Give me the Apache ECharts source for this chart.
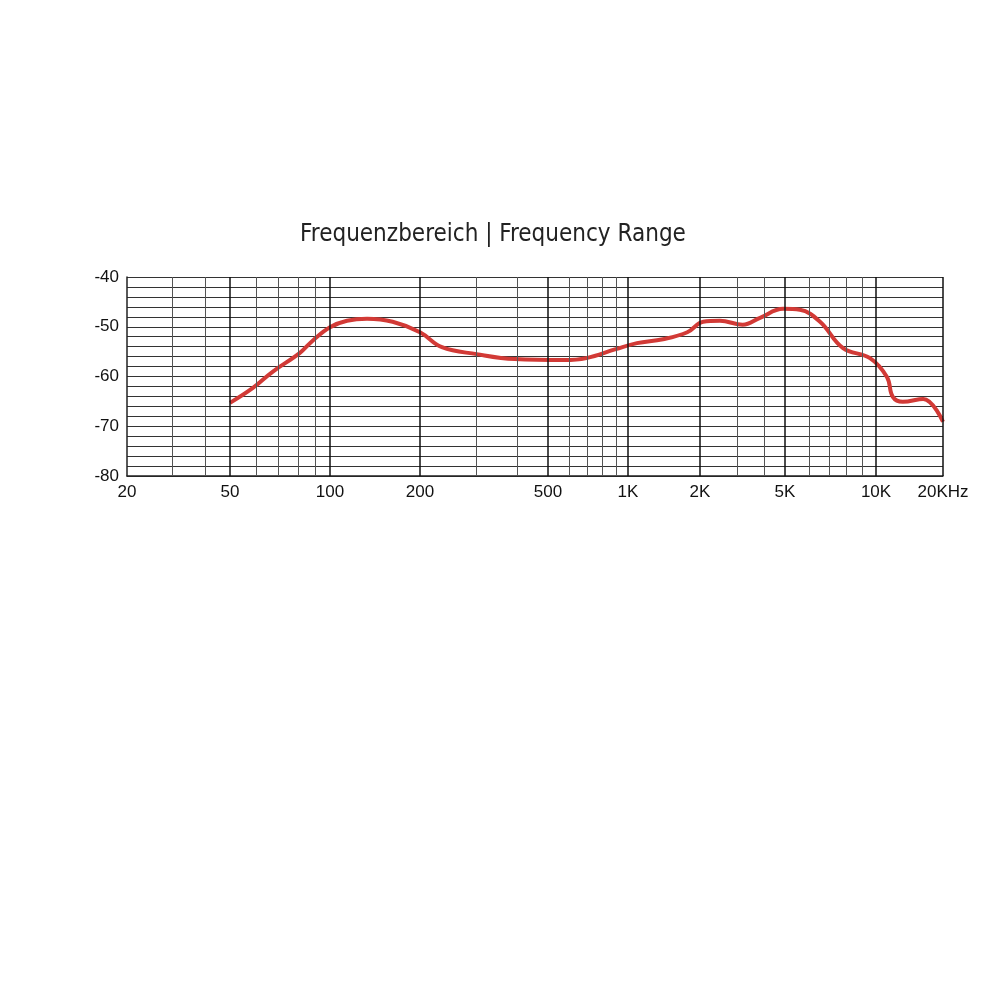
<!DOCTYPE html>
<html><head><meta charset="utf-8">
<script src="https://cdn.jsdelivr.net/npm/echarts@6/dist/echarts.min.js"></script>
<style>body{margin:0}#c{width:1000px;height:1000px}</style></head>
<body><div id="c"></div>
<script>
// Axis scale calibration of the printed (non-uniform) frequency grid: frequency -> axis unit
const calFreq = [20, 50, 100, 200, 500, 1000, 2000, 5000, 10000, 20000];
const calUnit = [0, 103, 203, 293, 421, 501, 573, 658, 749, 816];
const xTickFreqs = [20, 50, 100, 200, 500, 1000, 2000, 5000, 10000, 20000];
const xTickLabels = ['20', '50', '100', '200', '500', '1K', '2K', '5K', '10K', '20KHz'];
const vGridFreqs = [30, 40, 60, 70, 80, 90, 300, 400, 600, 700, 800, 900, 3000, 4000, 6000, 7000, 8000, 9000];
const vMajorFreqs = [50, 100, 200, 500, 1000, 2000, 5000, 10000];
const freqHz = [50, 58.6, 67, 81, 89, 100, 114, 133, 162, 200, 234, 300, 394, 576, 697, 900, 1090, 1400, 1770, 2070, 2480, 3170, 3820, 4900, 5600, 6530, 7780, 9550, 11200, 11900, 13200, 16300, 20000];
const levelDb = [-65.3, -62.3, -59.1, -55.3, -52.7, -50.1, -48.8, -48.4, -49.0, -51.1, -54.1, -55.5, -56.5, -56.7, -56.3, -54.5, -53.3, -52.5, -51.1, -49.0, -48.8, -49.6, -48.2, -46.4, -46.6, -49.0, -54.3, -56.3, -60.1, -64.1, -65.1, -64.5, -69.1];

function toUnit(f){
  for(let i=0;i<calFreq.length-1;i++){
    if(f<=calFreq[i+1]){
      const t=Math.log(f/calFreq[i])/Math.log(calFreq[i+1]/calFreq[i]);
      return calUnit[i]+t*(calUnit[i+1]-calUnit[i]);
    }
  }
  return calUnit[calUnit.length-1];
}
const tickUnits = xTickFreqs.map(toUnit);
function labelFor(v){
  for(let i=0;i<tickUnits.length;i++) if(Math.abs(tickUnits[i]-v)<0.5) return xTickLabels[i];
  return '';
}
const chart = echarts.init(document.getElementById('c'));
chart.setOption({
  animation:false,
  title:{text:'Frequenzbereich | Frequency Range',left:488,top:218,textAlign:'center',
    textStyle:{fontFamily:'DejaVu Sans Condensed, Roboto, sans-serif',fontSize:24,fontWeight:'normal',color:'#222'}},
  grid:{left:127,right:57,top:277,height:199},
  xAxis:{type:'value',min:0,max:816,
    axisLine:{show:true,lineStyle:{color:'#222',width:1.5}},
    axisTick:{show:false},splitLine:{show:false},
    axisLabel:{customValues:tickUnits,formatter:labelFor,color:'#111',fontSize:17,fontFamily:'Liberation Sans, Arial',margin:8}},
  yAxis:{type:'value',min:-80,max:-40,interval:2,
    axisLine:{show:true,lineStyle:{color:'#222',width:1.5}},
    axisTick:{show:false},
    splitLine:{lineStyle:{color:'#333',width:1}},
    axisLabel:{formatter:v=>v%10===0?String(v):'',color:'#111',fontSize:17,fontFamily:'Liberation Sans, Arial',margin:8}},
  series:[
    {type:'line',data:[],silent:true,
     markLine:{silent:true,symbol:'none',label:{show:false},animation:false,
       data:[...vGridFreqs.map(f=>({xAxis:toUnit(f),lineStyle:{color:'#555',width:1,type:'solid'}})),
             ...vMajorFreqs.map(f=>({xAxis:toUnit(f),lineStyle:{color:'#111',width:1.5,type:'solid'}})),
             {xAxis:816,lineStyle:{color:'#111',width:1.5,type:'solid'}}]}},
    {type:'line',smooth:0.4,showSymbol:false,
     data:freqHz.map((f,i)=>[toUnit(f),levelDb[i]]),
     lineStyle:{color:'#d23a36',width:4}}
  ]
});
</script></body></html>
